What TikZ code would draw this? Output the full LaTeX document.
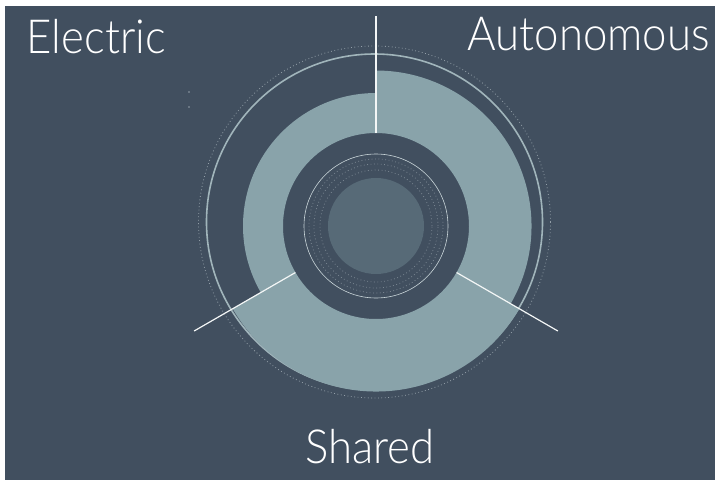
\documentclass[tikz,border=0pt]{standalone}
\usepackage{fontspec}
\setmainfont{Lato}[UprightFont=* Light, FakeStretch=0.93]
\usepackage{tikz}
\usepackage{xcolor}

\definecolor{slate}{HTML}{414F5F}
\definecolor{band}{HTML}{89A3AA}
\definecolor{core}{HTML}{576A77}
\definecolor{thin}{HTML}{C9D5D9}

\tikzset{
  label/.style={text=white, font=\fontsize{47}{50}\selectfont, inner sep=0pt},
  spoke/.style={draw=white!90!band, line width=1.2pt},
  ring/.style={draw=band!80!white, line width=1.6pt},
  fine/.style={draw=thin, line width=0.6pt},
  dots/.style={draw=thin!60!slate, line width=0.8pt, dash pattern=on 0.8pt off 2.6pt}
}

\newcommand{\sector}[3]{%
  \fill[band] (#1:93) arc[start angle=#1, end angle=#2, radius=93]
    -- (#2:#3) arc[start angle=#2, end angle=#1, radius=#3] -- cycle;}

\begin{document}
\begin{tikzpicture}[x=1pt, y=1pt]
\fill[white] (0,0) rectangle (715,-480);
\fill[slate] (5,-6) rectangle (715,-480);
\useasboundingbox (0,0) rectangle (715,-480);

% outer rings
\begin{scope}[shift={(374.5,-222)}]
\draw[dots] (0,0) circle[radius=176];
\draw[ring] (0,0) circle[radius=168];
\end{scope}

\begin{scope}[shift={(376,-226)}]
\sector{90}{-30}{155.5}
\sector{-30}{-150}{165.5}
\sector{210}{90}{133}

\fill[core] (0,0) circle[radius=48];
\draw[dots, opacity=0.7] (0,0) circle[radius=56];
\draw[dots, opacity=0.7] (0,0) circle[radius=62];
\draw[dots, opacity=0.7] (0,0) circle[radius=67];
\draw[fine] (0,0) circle[radius=72];

\coordinate (A1) at (90:93);  \coordinate (A2) at (90:210);
\coordinate (S1) at (-30:93); \coordinate (S2) at (-30:210);
\coordinate (E1) at (210:93); \coordinate (E2) at (210:210);
\end{scope}

\fill[thin!60!slate] (189,-92) circle[radius=0.8];
\fill[thin!60!slate] (189,-107) circle[radius=0.8];

\draw[spoke] (A1) -- (A2);
\draw[spoke] (S1) -- (S2);
\draw[spoke] (E1) -- (E2);

\node[label, anchor=base west] (E) at (26.7,-53.3) {Electric};
\node[label, anchor=base east] (A) at (710,-50) {Autonomous};
\node[label, anchor=base] (S) at (369.7,-463.3) {Shared};
\end{tikzpicture}
\end{document}
